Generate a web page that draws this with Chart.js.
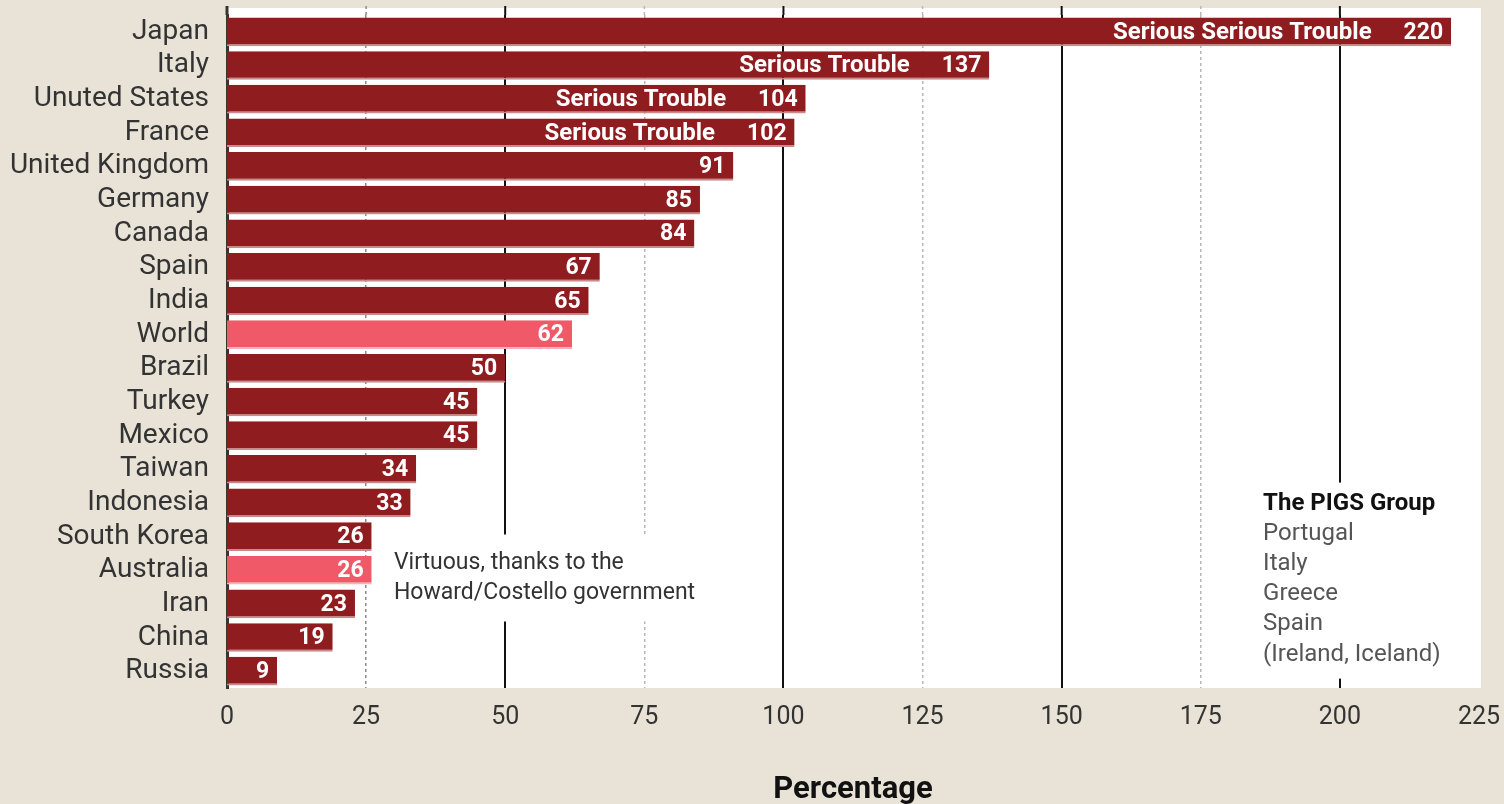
<!DOCTYPE html>
<html lang="en">
  <head>
    <meta charset="UTF-8" />
    <title>Debt as percentage of GDP</title>
    <script src="https://cdn.jsdelivr.net/npm/chart.js"></script>
    <style>
      html, body { margin: 0; padding: 0; background: #e9e3d7; }
      #wrap { width: 1504px; height: 804px; }
    </style>
  </head>
  <body>
    <div id="wrap"><canvas id="chart"></canvas></div>

    <script>
      // data
      const countries = [
        "Japan", "Italy", "Unuted States", "France", "United Kingdom",
        "Germany", "Canada", "Spain", "India", "World", "Brazil", "Turkey",
        "Mexico", "Taiwan", "Indonesia", "South Korea", "Australia", "Iran",
        "China", "Russia",
      ];
      const debtPct = [220, 137, 104, 102, 91, 85, 84, 67, 65, 62, 50, 45, 45, 34, 33, 26, 26, 23, 19, 9];
      const notes = [
        "Serious Serious Trouble", "Serious Trouble", "Serious Trouble", "Serious Trouble",
        "", "", "", "", "", "", "", "", "", "", "", "", "", "", "", "",
      ];
      const highlighted = ["World", "Australia"];
      const xTicks = [0, 25, 50, 75, 100, 125, 150, 175, 200, 225];
      const virtuousNote = ["Virtuous, thanks to the", "Howard/Costello government"];
      const pigsTitle = "The PIGS Group";
      const pigsList = ["Portugal", "Italy", "Greece", "Spain", "(Ireland, Iceland)"];

      const DARK = "#8f1c1f";
      const LIGHT = "#f05a68";
      const FONT = "Roboto, 'DejaVu Sans', sans-serif";
      const TOP_EXTRA = 7; // white panel starts a little above the first bar slot

      function gridStyle(v) {
        if (v === 0 || v === 225) return null;
        if (v % 50 === 0) return { color: "#111111", width: 2, dash: [] };
        return { color: v === 25 ? "#8a8a8a" : "#b8b8b8", width: 1.5, dash: [3, 3] };
      }

      // white plot area on beige page
      const plotBg = {
        id: "plotBg",
        beforeDraw(chart) {
          const { ctx, chartArea: a } = chart;
          ctx.save();
          ctx.fillStyle = "#e9e3d7";
          ctx.fillRect(0, 0, chart.width, chart.height);
          ctx.fillStyle = "#ffffff";
          ctx.fillRect(a.left, a.top - TOP_EXTRA, a.right - a.left + 2, a.bottom - a.top + TOP_EXTRA);
          // grid lines continue into the top strip
          const x = chart.scales.x;
          xTicks.forEach((v) => {
            const s = gridStyle(v);
            if (!s) return;
            const px = x.getPixelForValue(v);
            ctx.strokeStyle = s.color;
            ctx.lineWidth = s.width;
            ctx.setLineDash(s.dash);
            ctx.beginPath();
            ctx.moveTo(px, a.top - TOP_EXTRA - 2);
            ctx.lineTo(px, a.top);
            ctx.stroke();
          });
          ctx.setLineDash([]);
          ctx.strokeStyle = "#3a3530";
          ctx.lineWidth = 3;
          ctx.beginPath();
          ctx.moveTo(a.left, a.top - TOP_EXTRA - 2);
          ctx.lineTo(a.left, a.top);
          ctx.stroke();
          ctx.restore();
        },
      };

      // labels inside the bars + the two text notes
      const barText = {
        id: "barText",
        afterDatasetsDraw(chart) {
          const { ctx } = chart;
          const x = chart.scales.x;
          const y = chart.scales.y;
          const meta = chart.getDatasetMeta(0);
          ctx.save();
          ctx.textBaseline = "middle";
          ctx.fillStyle = "#ffffff";
          meta.data.forEach((bar, i) => {
            ctx.font = "bold 23px " + FONT;
            ctx.textAlign = "right";
            const vx = bar.x - 8;
            ctx.fillText(String(debtPct[i]), vx, bar.y + 1);
            if (notes[i]) {
              const w = ctx.measureText(String(debtPct[i])).width;
              ctx.font = "bold 24px " + FONT;
              ctx.fillText(notes[i], vx - w - 32, bar.y + 1);
            }
          });

          // Virtuous note
          const vx0 = x.getPixelForValue(30);
          const vy0 = y.getPixelForValue(15.8);
          ctx.fillStyle = "#ffffff";
          ctx.fillRect(vx0 - 8, vy0 - 29, 325, 87);
          ctx.fillStyle = "#333333";
          ctx.textAlign = "left";
          ctx.font = "23px " + FONT;
          virtuousNote.forEach((t, k) => ctx.fillText(t, vx0, vy0 + k * 30));

          // PIGS box
          const px0 = x.getPixelForValue(186.2);
          const py0 = y.getPixelForValue(14.02);
          ctx.fillStyle = "#ffffff";
          ctx.fillRect(px0 - 8, py0 - 21, 200, 196);
          ctx.fillStyle = "#111111";
          ctx.font = "bold 24px " + FONT;
          ctx.fillText(pigsTitle, px0, py0);
          ctx.fillStyle = "#555555";
          ctx.font = "24px " + FONT;
          pigsList.forEach((t, k) => ctx.fillText(t, px0, py0 + (k + 1) * 30.2));
          ctx.restore();
        },
      };

      new Chart(document.getElementById("chart"), {
        type: "bar",
        data: {
          labels: countries,
          datasets: [
            {
              data: debtPct,
              backgroundColor: countries.map((c) => (highlighted.includes(c) ? LIGHT : DARK)),
              borderColor: countries.map((c) => (highlighted.includes(c) ? "#f7b3b8" : "#c98a8c")),
              borderWidth: { top: 0, right: 0, bottom: 2, left: 0 },
              borderSkipped: false,
              barPercentage: 0.85,
              categoryPercentage: 1,
            },
          ],
        },
        options: {
          indexAxis: "y",
          responsive: true,
          maintainAspectRatio: false,
          animation: false,
          layout: { padding: { top: 8 + TOP_EXTRA, right: 25, left: 0, bottom: 0 } },
          plugins: {
            legend: { display: false },
            tooltip: { enabled: false },
          },
          scales: {
            x: {
              min: 0,
              max: 225,
              afterFit(scale) {
                scale.height = 116;
                scale.paddingLeft = 0;
                scale.paddingRight = 0;
              },
              afterBuildTicks(scale) { scale.ticks = xTicks.map((v) => ({ value: v })); },
              ticks: {
                color: "#333333",
                font: { family: FONT, size: 25 },
                padding: 15,
                maxRotation: 0,
              },
              grid: {
                drawTicks: false,
                lineWidth: (c) => (c.tick && gridStyle(c.tick.value) ? gridStyle(c.tick.value).width : 0),
                color: (c) => (c.tick && gridStyle(c.tick.value) ? gridStyle(c.tick.value).color : "rgba(0,0,0,0)"),
              },
              border: {
                display: false,
                dash: (c) => (c.tick && gridStyle(c.tick.value) ? gridStyle(c.tick.value).dash : []),
              },
              title: {
                display: true,
                text: "Percentage",
                color: "#111111",
                font: { family: FONT, size: 31, weight: "bold" },
                padding: { top: 0, bottom: -5 },
              },
            },
            y: {
              afterFit(scale) {
                scale.width = 227;
                scale.paddingTop = 0;
                scale.paddingBottom = 0;
              },
              ticks: {
                color: "#333333",
                font: { family: FONT, size: 28 },
                padding: 18,
                autoSkip: false,
              },
              grid: { display: false, drawTicks: false },
              border: { display: true, color: "#3a3530", width: 3 },
            },
          },
        },
        plugins: [plotBg, barText],
      });
    </script>
  </body>
</html>
